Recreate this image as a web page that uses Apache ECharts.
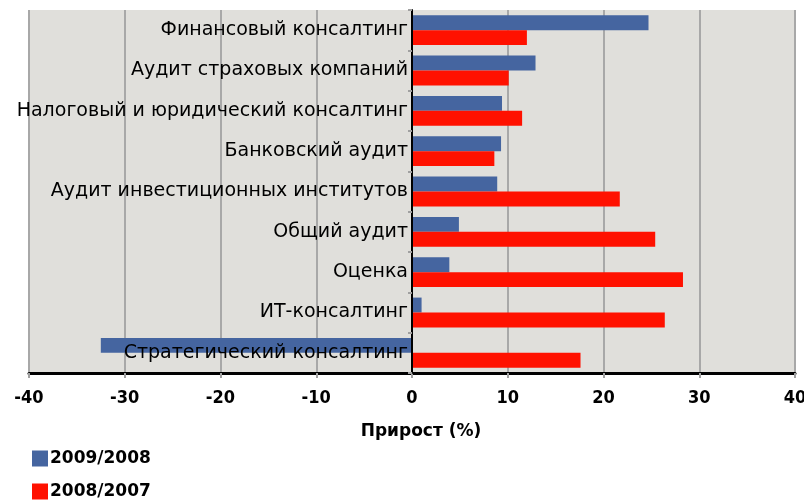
<!DOCTYPE html>
<html>
<head>
<meta charset="utf-8">
<script src="https://cdn.jsdelivr.net/npm/echarts@6/dist/echarts.min.js"></script>
<style>
  html, body { margin: 0; padding: 0; background: #ffffff; }
  #chart { width: 804px; height: 501px; }
</style>
</head>
<body>
<div id="chart"></div>
<script>
// Sectors, listed bottom-to-top as the category axis draws them
const categories = [
  'Стратегический консалтинг',
  'ИТ-консалтинг',
  'Оценка',
  'Общий аудит',
  'Аудит инвестиционных институтов',
  'Банковский аудит',
  'Налоговый и юридический консалтинг',
  'Аудит страховых компаний',
  'Финансовый консалтинг'
];
const seriesNames = ['2009/2008', '2008/2007'];
const growth2009 = [-32.5, 1.0, 3.9, 4.9, 8.9, 9.3, 9.4, 12.9, 24.7];
const growth2008 = [17.6, 26.4, 28.3, 25.4, 21.7, 8.6, 11.5, 10.1, 12.0];
const xTicks = [-40, -30, -20, -10, 0, 10, 20, 30, 40];
const axisTitle = 'Прирост (%)';

const colors = ['#4565a0', '#ff1100'];

const W = 804;
const gridLeft = 29, gridRight = 9;
// the value axis is symmetric, so its zero sits in the middle of the grid;
// the category axis (line + labels) is shifted there
const zeroShift = (W - gridLeft - gridRight) / 2;

const chart = echarts.init(document.getElementById('chart'), null, { renderer: 'canvas' });
chart.setOption({
  animation: false,
  grid: {
    left: gridLeft, right: gridRight, top: 10, bottom: 128,
    containLabel: false, outerBoundsMode: 'none',
    show: true, backgroundColor: '#e0dfdb', borderWidth: 0
  },
  legend: {
    orient: 'vertical',
    left: 32, top: 450, padding: 0,
    itemWidth: 16, itemHeight: 16, itemGap: 16,
    icon: 'rect',
    data: seriesNames,
    textStyle: {
      fontFamily: '"DejaVu Sans"',
      fontWeight: 'bold', fontSize: 17, color: '#000', padding: [0, 0, 0, -3]
    }
  },
  xAxis: {
    type: 'value',
    min: xTicks[0], max: xTicks[xTicks.length - 1], interval: 10,
    name: axisTitle,
    nameLocation: 'middle',
    nameGap: 50,
    nameTextStyle: {
      fontFamily: '"DejaVu Sans"',
      fontWeight: 'bold', fontSize: 17, color: '#000', padding: [0, 0, 0, 18]
    },
    axisLine: { show: true, onZero: false, lineStyle: { color: '#000', width: 3 } },
    axisTick: { show: true, length: 5, lineStyle: { color: '#a0a0a0', width: 2 } },
    axisLabel: {
      margin: 16,
      fontFamily: '"DejaVu Sans Condensed", "DejaVu Sans"',
      fontWeight: 'bold', fontSize: 18, color: '#000'
    },
    splitLine: { show: true, lineStyle: { color: '#a8a8a8', width: 2 } }
  },
  yAxis: {
    type: 'category',
    data: categories,
    z: 10,
    offset: -zeroShift,
    axisLine: { show: true, onZero: false, lineStyle: { color: '#000', width: 2 } },
    axisTick: { show: true, length: 4, lineStyle: { color: '#a0a0a0', width: 2 } },
    axisLabel: {
      margin: 4,
      fontFamily: '"DejaVu Sans", Verdana, sans-serif',
      fontSize: 19, color: '#000'
    },
    splitLine: { show: false }
  },
  series: [
    {
      name: seriesNames[0], type: 'bar', data: growth2009,
      itemStyle: { color: colors[0] },
      barGap: '0%', barCategoryGap: '26%'
    },
    {
      name: seriesNames[1], type: 'bar', data: growth2008,
      itemStyle: { color: colors[1] }
    }
  ]
});
</script>
</body>
</html>
